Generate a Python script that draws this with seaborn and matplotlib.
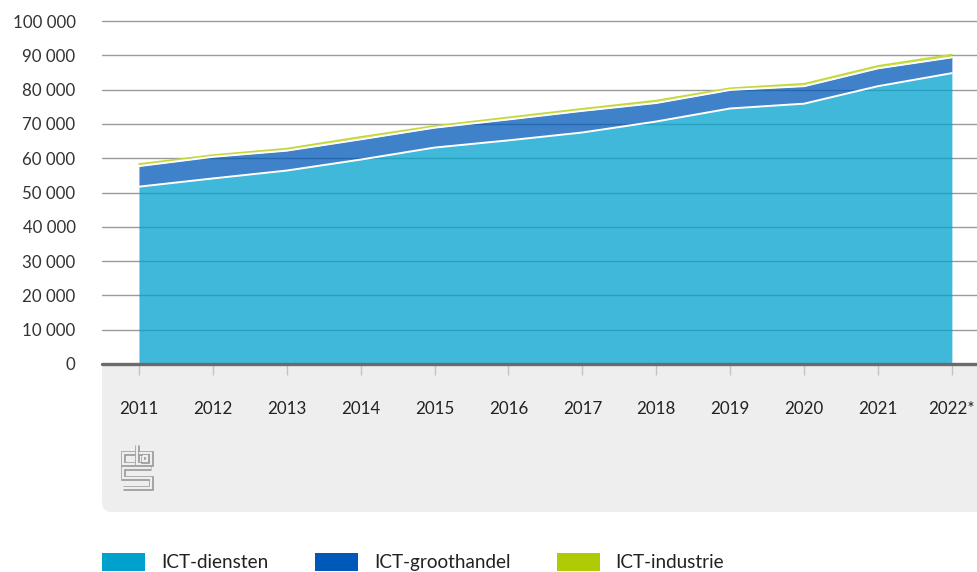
import matplotlib.pyplot as plt
import pandas as pd
import seaborn as sns
from matplotlib.lines import Line2D
from matplotlib.patches import FancyBboxPatch, Patch
from matplotlib.ticker import FuncFormatter
from matplotlib.transforms import IdentityTransform

years = ["2011", "2012", "2013", "2014", "2015", "2016", "2017", "2018", "2019", "2020", "2021", "2022*"]
ict_diensten = [51700, 54100, 56400, 59600, 63100, 65200, 67500, 70700, 74500, 75900, 81000, 84800]
ict_groothandel = [6000, 6300, 5800, 5900, 5800, 6100, 6300, 5400, 5400, 5100, 5200, 4600]
ict_industrie = [600, 500, 600, 700, 500, 600, 600, 700, 500, 700, 700, 800]

labels = ["ICT-diensten", "ICT-groothandel", "ICT-industrie"]
colors = ["#00a1cd", "#0058b8", "#afcb05"]

W, H = 977, 572


def main() -> None:
    df = pd.DataFrame({"jaar": years, "diensten": ict_diensten,
                       "groothandel": ict_groothandel, "industrie": ict_industrie})
    df["pos"] = range(len(df))
    df["top1"] = df["diensten"]
    df["top2"] = df["top1"] + df["groothandel"]
    df["top3"] = df["top2"] + df["industrie"]

    sns.set_theme(style="white")
    plt.rcParams["font.family"] = ["Lato", "DejaVu Sans"]

    fig = plt.figure(figsize=(W / 100, H / 100), dpi=100)
    # axes: x 102..977 px, y 0 at 364 px, 100000 at 21 px
    y_top = 101500
    px_per = 343 / 100000
    top_px = 364 - y_top * px_per
    ax = fig.add_axes([102 / W, 1 - 364 / H, 1 - 102 / W, (364 - top_px) / H])

    # grey footer panel behind the x labels
    panel = FancyBboxPatch((102, H - 512), 1100, 170,
                           boxstyle="round,pad=0,rounding_size=10",
                           transform=IdentityTransform(), facecolor="#eeeeee",
                           edgecolor="none", zorder=-1)
    fig.patches.append(panel)

    x = df["pos"]
    ax.fill_between(x, 0, df["top1"], color=colors[0], alpha=0.75, lw=0, zorder=2)
    ax.fill_between(x, df["top1"], df["top2"], color=colors[1], alpha=0.75, lw=0, zorder=2)
    ax.fill_between(x, df["top2"], df["top3"], color=colors[2], alpha=0.75, lw=0, zorder=2)
    sns.lineplot(data=df, x="pos", y="top3", color="#c4d838", lw=1.2, ax=ax, zorder=3)
    sns.lineplot(data=df, x="pos", y="top2", color="white", lw=1.4, ax=ax, zorder=3)
    sns.lineplot(data=df, x="pos", y="top1", color="white", lw=1.4, ax=ax, zorder=3)

    ax.set_xlim(-0.5, 11.34)
    ax.set_ylim(0, y_top)
    ax.set_yticks(range(0, 100001, 10000))
    ax.yaxis.set_major_formatter(FuncFormatter(lambda v, _: f"{int(v):,}".replace(",", " ")))
    ax.set_xticks(range(len(years)))
    ax.set_xticklabels(years)
    ax.set_xlabel("")
    ax.set_ylabel("")

    ax.set_axisbelow(True)
    ax.yaxis.grid(True, color="#9a9a9a", lw=1)
    ax.xaxis.grid(False)
    for s in ax.spines.values():
        s.set_visible(False)
    ax.axhline(0, color="#6b6b6b", lw=2.4, clip_on=False, zorder=5)

    ax.tick_params(axis="y", length=0, pad=19, labelsize=12.2, labelcolor="#333333")
    ax.tick_params(axis="x", length=8, width=1, color="#c4c4c4", direction="out",
                   pad=19, labelsize=12.2, labelcolor="#222222", bottom=True)

    # cbs logo, drawn as outlined strokes
    def stroke(pts):
        xs = [p[0] for p in pts]
        ys = [H - p[1] for p in pts]
        for lw, c in ((3.4, "#9c9c9c"), (1.6, "#eeeeee")):
            fig.add_artist(Line2D(xs, ys, lw=lw, color=c, transform=IdentityTransform(),
                                  solid_capstyle="butt", solid_joinstyle="miter"))

    stroke([(135, 452.7), (123.3, 452.7), (123.3, 464.3), (135, 464.3)])
    stroke([(136.7, 444.5), (136.7, 464.3), (150.7, 464.3), (150.7, 452.7), (138.5, 452.7)])
    stroke([(142.7, 455.7), (146.5, 455.7), (146.5, 460.5), (142.7, 460.5), (142.7, 455.7)])
    stroke([(150.7, 468.3), (123.3, 468.3), (123.3, 477.7), (150.7, 477.7),
            (150.7, 487.7), (123.3, 487.7)])

    handles = [Patch(facecolor=c, edgecolor="none") for c in colors]
    fig.legend(handles, labels, loc="upper left", bbox_to_anchor=(102 / W, (H - 553) / H),
               ncol=3, frameon=False, fontsize=13.6, borderpad=0, borderaxespad=0,
               handlelength=2.28, handleheight=1.05, handletextpad=0.85, columnspacing=2.45,
               labelcolor="#222222")

    fig.savefig("out.png", dpi=100)
    plt.close(fig)


if __name__ == "__main__":
    main()
